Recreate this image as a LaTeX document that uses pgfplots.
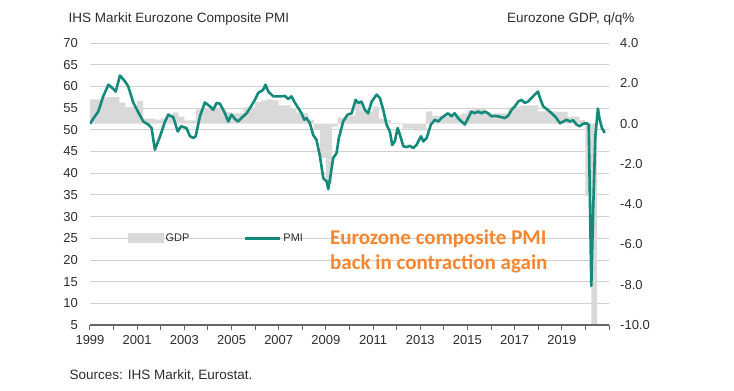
\documentclass[border=0pt]{standalone}
\usepackage{fontspec}
\setmainfont{Liberation Sans}
\newfontfamily\calibri{Carlito}
\usepackage{pgfplots}
\usepackage{pgfplotstable}
\pgfplotsset{compat=1.18}
\definecolor{pmiteal}{RGB}{20,138,125}
\definecolor{gdpgray}{RGB}{217,217,217}
\definecolor{gridgray}{RGB}{208,208,208}
\definecolor{txt}{RGB}{45,45,45}
\definecolor{orangetxt}{RGB}{247,134,48}

\pgfplotstableread{
x y
1999.00 1.2
1999.25 1.2
1999.50 1.3
1999.75 1.32
2000.00 1.32
2000.25 1.04
2000.50 0.83
2000.75 0.83
2001.00 1.12
2001.25 0.25
2001.50 0.25
2001.75 0.2
2002.00 0.25
2002.25 0.4
2002.50 0.55
2002.75 0.35
2003.00 0.16
2003.25 0.16
2003.50 0.7
2003.75 0.75
2004.00 0.75
2004.25 0.8
2004.50 0.78
2004.75 0.58
2005.00 0.5
2005.25 0.5
2005.50 0.8
2005.75 0.8
2006.00 1.07
2006.25 1.15
2006.50 1.2
2006.75 1.15
2007.00 0.9
2007.25 0.9
2007.50 0.75
2007.75 0.55
2008.00 0.5
2008.25 0.2
2008.50 -0.3
2008.75 -1.7
2009.00 -3.0
2009.25 -0.15
2009.50 0.3
2009.75 0.35
2010.00 0.4
2010.25 1.0
2010.50 0.65
2010.75 0.6
2011.00 0.85
2011.25 0.25
2011.50 0.2
2011.75 0.02
2012.00 0.02
2012.25 -0.25
2012.50 -0.25
2012.75 -0.35
2013.00 -0.35
2013.25 0.6
2013.50 0.4
2013.75 0.4
2014.00 0.4
2014.25 0.45
2014.50 0.45
2014.75 0.5
2015.00 0.66
2015.25 0.74
2015.50 0.74
2015.75 0.5
2016.00 0.5
2016.25 0.5
2016.50 0.5
2016.75 0.83
2017.00 0.83
2017.25 0.9
2017.50 0.9
2017.75 0.9
2018.00 0.6
2018.25 0.6
2018.50 0.6
2018.75 0.58
2019.00 0.58
2019.25 0.35
2019.50 0.35
2019.75 0.17
2020.00 -3.6
2020.25 -11.8
2020.50 0
}\gdp

\pgfplotstableread{
x y
1999.00 51.4
1999.17 52.8
1999.35 54.2
1999.56 57.7
1999.78 60.4
1999.99 59.4
2000.09 58.8
2000.27 62.5
2000.48 61.2
2000.62 60.0
2000.84 56.2
2001.05 54.0
2001.26 51.9
2001.47 51.2
2001.61 50.4
2001.75 45.4
2001.97 48.5
2002.18 51.9
2002.32 53.5
2002.53 52.9
2002.72 49.6
2002.86 50.8
2003.09 50.4
2003.24 48.5
2003.38 48.1
2003.48 48.5
2003.66 53.1
2003.87 56.3
2004.08 55.4
2004.22 54.6
2004.37 56.2
2004.51 56.0
2004.72 53.8
2004.86 51.9
2005.00 53.5
2005.14 52.5
2005.28 51.9
2005.42 52.7
2005.64 53.8
2005.78 55.0
2005.99 56.9
2006.13 58.5
2006.34 59.2
2006.44 60.4
2006.56 58.8
2006.77 57.7
2007.05 57.7
2007.26 57.8
2007.40 57.1
2007.54 57.7
2007.69 56.2
2007.83 55.0
2007.97 53.8
2008.08 52.3
2008.18 52.7
2008.32 51.5
2008.46 48.8
2008.60 47.7
2008.75 43.8
2008.89 38.8
2009.03 38.1
2009.10 36.3
2009.20 39.6
2009.31 43.5
2009.45 44.6
2009.55 48.1
2009.73 51.9
2009.92 53.5
2010.09 53.8
2010.26 56.9
2010.37 56.2
2010.51 56.5
2010.65 54.6
2010.79 53.8
2010.94 56.5
2011.15 58.1
2011.29 57.3
2011.43 54.6
2011.57 51.2
2011.71 49.6
2011.81 46.5
2011.92 47.3
2012.04 50.4
2012.14 48.8
2012.28 46.2
2012.42 46.0
2012.56 46.3
2012.70 45.8
2012.84 46.5
2013.03 48.5
2013.13 47.3
2013.27 48.1
2013.45 51.2
2013.62 52.3
2013.76 51.9
2013.90 52.7
2014.04 53.3
2014.18 53.8
2014.32 53.1
2014.46 53.8
2014.60 52.7
2014.75 51.9
2014.89 51.2
2015.03 52.7
2015.17 54.2
2015.31 53.8
2015.45 54.2
2015.59 53.8
2015.73 54.2
2015.88 53.8
2016.02 53.1
2016.16 53.2
2016.30 53.1
2016.44 52.9
2016.58 52.7
2016.72 53.2
2016.87 54.6
2017.01 55.4
2017.15 56.5
2017.29 56.9
2017.43 56.2
2017.57 56.5
2017.71 57.3
2017.85 58.1
2017.99 58.8
2018.10 56.9
2018.21 55.4
2018.35 54.8
2018.49 54.2
2018.63 53.5
2018.77 52.7
2018.92 51.5
2019.06 51.9
2019.20 52.3
2019.34 51.9
2019.48 52.2
2019.62 51.2
2019.76 50.8
2019.90 51.4
2020.05 51.5
2020.14 51.2
2020.25 14.0
2020.33 31.9
2020.42 48.5
2020.53 54.9
2020.60 52.5
2020.70 50.4
2020.82 49.3
}\pmi

\begin{document}
\begin{tikzpicture}
\path (0,0) rectangle (734pt,391pt);
\pgfplotsset{common/.style={scale only axis, width=519pt, height=282pt,
  at={(90pt,66pt)}, anchor=south west, xmin=1999, xmax=2021,
  enlargelimits=false, tick label style={font=\fontsize{13}{15}\selectfont, text=txt},
  /pgf/number format/assume math mode=true}}

% grid and left labels
\begin{axis}[common, ymin=5, ymax=70, ytick={5,10,...,70}, ymajorgrids,
  grid style={gridgray, line width=0.8pt}, axis line style={draw=none},
  major tick length=0pt, xtick=\empty,
  yticklabel style={anchor=east, inner sep=0pt, xshift=-12pt}]
\end{axis}

% GDP bars
\begin{axis}[common, ymin=-10, ymax=4, axis y line*=right, axis x line=none,
  y axis line style={draw=none}, major tick length=0pt, xtick=\empty,
  ytick={-10,-8,...,4}, yticklabels={-10.0,-8.0,-6.0,-4.0,-2.0,0.0,2.0,4.0},
  yticklabel style={anchor=west, inner sep=0pt, xshift=11pt}]
\addplot[ybar interval, fill=gdpgray, draw=none] table[x=x,y=y] {\gdp};
\end{axis}

% PMI line
\begin{axis}[common, ymin=5, ymax=70, axis x line*=bottom, axis y line=none,
  x axis line style={-, draw=black!60, line width=1.2pt},
  xtick={1999,2000,...,2021},
  xticklabels={1999,,2001,,2003,,2005,,2007,,2009,,2011,,2013,,2015,,2017,,2019,,},
  tick align=outside, major tick length=5pt, tick style={black!60, line width=1pt},
  ytick=\empty,
  xticklabel style={yshift=-2pt},
  legend style={at={(axis description cs:0.0732,0.3085)}, anchor=west, draw=none, fill=none,
    font=\fontsize{11}{13}\selectfont, text=txt, inner sep=0pt,
    /tikz/every even column/.append style={column sep=52pt}},
  legend columns=2, legend cell align=left]
\addlegendimage{legend image code/.code={\fill[gdpgray] (0pt,-4.5pt) rectangle (35pt,4.5pt);}}
\addlegendentry{GDP}
\addplot[pmiteal, line width=2.6pt, line join=round,
  legend image code/.code={\draw[pmiteal, line width=3pt] (0pt,0pt) -- (35pt,0pt);}]
  table[x=x,y=y] {\pmi};
\addlegendentry{PMI}
\node[anchor=base west, inner sep=0pt, font=\calibri\bfseries\fontsize{21}{23}\selectfont, text=orangetxt]
  at (axis cs:2009.17,23.6) {Eurozone composite PMI};
\node[anchor=base west, inner sep=0pt, font=\calibri\bfseries\fontsize{21}{23}\selectfont, text=orangetxt]
  at (axis cs:2009.17,17.9) {back in contraction again};
\end{axis}

\node[anchor=base west, font=\fontsize{13.5}{15}\selectfont, text=txt] at (65pt,368pt) {IHS Markit Eurozone Composite PMI};
\node[anchor=base east, font=\fontsize{13.5}{15}\selectfont, text=txt] at (638pt,368pt) {Eurozone GDP, q/q\%};
\node[anchor=base west, font=\fontsize{13.5}{15}\selectfont, text=txt] at (66pt,11pt) {Sources: IHS Markit, Eurostat.};
\end{tikzpicture}
\end{document}
